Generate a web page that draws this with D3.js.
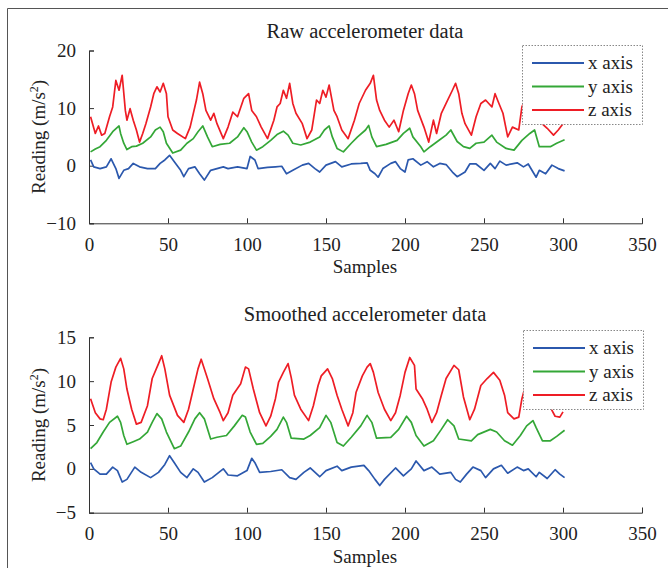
<!DOCTYPE html>
<html>
<head>
<meta charset="utf-8">
<script src="https://cdn.jsdelivr.net/npm/d3@7"></script>
<style>
  body { margin: 0; background: #fff; }
  text { font-family: "Liberation Serif", "Times New Roman", serif; fill: #222; }
</style>
</head>
<body>
<svg id="chart" width="668" height="568"></svg>
<script>
// [sample, reading] pairs
const rawX = [[1,1],[3,-0.2],[7,-0.5],[11,-0.2],[14,1.2],[17,-0.5],[19,-2.2],[22,-0.8],[25,-0.5],[28,0.4],[32,-0.2],[37,-0.5],[42,-0.5],[45,0.4],[48,1],[51,1.8],[54,0.7],[58,-0.8],[60,-1.9],[63,-0.5],[67,-0.2],[70,-1.4],[73,-2.5],[77,-0.8],[81,-0.5],[85,-0.2],[88,-0.5],[94,-0.2],[100,-0.5],[102,1.6],[105,1],[107,-0.5],[113,-0.3],[118,-0.2],[122,-0.1],[125,-1.4],[129,-0.8],[135,0.1],[139,0.4],[143,-0.5],[146,-1.1],[150,0.1],[156,0.7],[160,-0.2],[166,0.3],[172,0.4],[176,0.5],[178,-0.8],[181,-1.4],[183,-2],[186,-0.5],[191,0.4],[194,0.7],[197,-0.5],[200,-1.1],[202,1],[205,1.2],[210,0.1],[214,0.7],[218,-0.2],[222,0.4],[226,0.2],[230,-1.1],[233,-1.9],[238,-1.1],[241,0.3],[245,0.3],[250,-0.8],[254,0.4],[257,-0.5],[260,0.8],[264,0.1],[271,0.5],[275,-0.2],[278,0.3],[281,-1.1],[283,-2],[285,-0.8],[289,-1.4],[293,0.1],[297,-0.5],[301,-0.9]];
const rawY = [[1,2.4],[4,2.9],[7,3.3],[11,4.4],[15,5.9],[19,6.9],[20,5.6],[22,3.9],[24,2.8],[27,3.3],[30,3.4],[34,3.9],[39,5],[42,6.2],[45,6.7],[47,5.9],[49,3.9],[53,2.2],[58,2.7],[62,3.9],[66,4.7],[69,5.9],[72,6.9],[75,5],[78,3.3],[83,3.7],[89,3.9],[94,5],[98,6.6],[100,5.9],[103,4.1],[106,2.7],[110,3.3],[115,4.4],[119,5.4],[123,6],[126,5.3],[129,3.9],[134,3.6],[140,4.1],[146,5],[149,6.2],[152,6.9],[154,5],[157,3],[161,2.4],[166,3.9],[170,5],[175,6.2],[177,7],[179,5],[182,3.3],[188,3.7],[195,4.4],[199,5.6],[203,6.5],[205,5],[210,3.3],[212,2.4],[216,3.3],[222,4.5],[226,5.3],[229,6.2],[233,4.2],[237,3.3],[241,3],[245,3.9],[250,4.1],[255,5.3],[258,4.1],[264,3],[269,2.7],[274,4.4],[279,5.6],[282,6.2],[285,3.3],[292,3.3],[296,3.9],[301,4.5]];
const rawZ = [[1,8.5],[4,5.6],[6,6.9],[8,5.3],[10,5.6],[13,8.5],[15,10.2],[17,14.8],[19,13.1],[21,15.7],[23,9.6],[24,7.9],[26,9.9],[28,7.9],[30,6.2],[32,4.1],[34,5.6],[36,7.3],[39,10.2],[41,12.5],[43,13.7],[45,12.8],[47,14.3],[49,12.5],[50,8.5],[53,6.2],[56,5.6],[61,4.7],[64,6.7],[68,11.4],[70,14.5],[72,12.5],[74,9.6],[77,7.9],[79,9.1],[81,7.3],[85,4.7],[88,6.7],[91,9.3],[94,8.5],[98,11.7],[101,12.5],[103,9.6],[106,8.5],[109,6.7],[113,4.7],[117,7.9],[119,10.2],[121,10.8],[123,13.1],[125,11.7],[127,14.3],[129,10.8],[131,9.1],[135,7.3],[138,4.7],[141,6.2],[144,11.4],[146,10.8],[148,13.1],[150,11.9],[152,14],[155,9.6],[157,8.5],[160,6.2],[164,4.7],[168,7.9],[171,10.8],[175,13.1],[178,14.3],[180,15.7],[182,11.4],[184,9.6],[187,7.9],[190,6.7],[193,7.9],[196,5.9],[199,9.6],[202,12.5],[204,14],[206,12.5],[208,9.6],[212,6.7],[215,4.1],[218,7.9],[220,5.6],[223,9.1],[226,10.8],[230,13.1],[232,14.3],[234,12.5],[236,9.1],[238,7.3],[242,5.3],[245,8.5],[248,10.8],[251,11.4],[253,10.8],[255,10.2],[257,12.5],[259,11.1],[262,9.1],[265,5],[268,6.7],[272,6.2],[274,10.2],[277,12],[280,11],[283,9],[286,7.5],[290,6.5],[294,5.3],[297,6.2],[300,7.3]];

const smX = [[1,0.7],[3,0],[7,-0.6],[11,-0.6],[15,0.2],[18,-0.2],[21,-1.5],[24,-1.2],[29,0.2],[33,-0.4],[39,-1],[44,-0.4],[48,0.5],[51,1.5],[54,0.7],[58,-0.4],[62,-1],[66,0],[69,-0.4],[73,-1.5],[78,-1],[85,0],[88,-0.7],[94,-0.8],[100,-0.2],[103,1.2],[105,0.7],[108,-0.4],[115,-0.3],[122,-0.1],[127,-1],[131,-1.2],[136,-0.4],[140,0.1],[146,-0.9],[150,-0.2],[157,0.3],[160,-0.2],[166,0.2],[174,0.4],[177,-0.2],[181,-1.2],[184,-1.9],[187,-1.2],[194,0.1],[199,-0.8],[204,0],[207,0.9],[212,-0.2],[217,0.2],[222,-0.6],[229,-0.4],[232,-1.2],[235,-1.5],[239,-0.6],[243,0.2],[248,-0.2],[251,-1],[256,0],[261,0.4],[265,-0.5],[271,0.2],[275,-0.2],[278,0],[283,-0.9],[285,-0.4],[290,-1.1],[295,-0.1],[298,-0.6],[301,-1]];
const smY = [[1,2.3],[5,3],[9,4.2],[13,5.3],[18,6],[20,5.3],[22,3.8],[24,2.8],[28,3.1],[32,3.4],[37,4.2],[40,5.3],[43,6.3],[46,5.7],[49,4.2],[54,2.3],[58,2.6],[63,4.2],[67,5.7],[70,6.4],[73,5.7],[77,3.4],[81,3.6],[87,3.8],[92,4.9],[97,6.1],[99,5.9],[102,4.2],[106,2.8],[110,2.9],[115,3.7],[119,4.5],[123,5.9],[125,5.3],[128,3.5],[136,3.4],[140,3.8],[146,4.7],[150,6.1],[153,5.3],[157,3],[161,2.6],[166,3.6],[172,4.9],[176,6.1],[179,5.3],[182,3.5],[191,3.6],[196,4.5],[201,6],[204,5.3],[207,3.8],[212,2.6],[218,3.2],[223,4.5],[227,5.6],[231,4.9],[234,3.4],[242,3.2],[246,3.9],[254,4.5],[258,4.2],[263,3.2],[268,2.7],[273,3.8],[277,4.9],[281,5.5],[283,4.7],[287,3.2],[292,3.2],[296,3.7],[301,4.4]];
const smZ = [[1,8],[4,6.4],[7,5.7],[9,5.6],[11,6.8],[14,9.9],[17,11.6],[20,12.6],[22,11.4],[24,9.1],[27,6.8],[30,5.1],[33,5.3],[37,7.2],[40,10.3],[44,12],[46,12.9],[48,11.4],[51,8.4],[56,6.1],[60,5.3],[63,6.8],[66,9.1],[69,11.4],[71,12.5],[75,10.3],[79,8],[83,6.4],[85,5.5],[88,6.4],[91,8.4],[96,9.7],[99,11.6],[101,11.4],[104,9.1],[108,6.4],[112,4.9],[115,6],[118,8],[120,9.9],[123,11],[126,12],[128,10.4],[130,8.4],[134,6.8],[139,5.5],[142,7.2],[145,9.5],[147,10.6],[151,11.4],[154,10.3],[157,8.4],[160,6.8],[164,4.9],[167,6.4],[169,8.7],[173,10.6],[176,11.6],[178,12],[180,11],[183,8.7],[187,6.8],[191,5.5],[194,6.4],[197,8.4],[200,11],[203,12.7],[206,11.8],[207,9.1],[211,8],[214,6.8],[217,5.3],[220,6.4],[223,8.4],[226,10.3],[231,11.8],[234,11.3],[237,8.2],[241,5.6],[244,6.8],[248,9.5],[252,10.3],[256,11],[260,10.1],[263,8.4],[265,6.4],[269,5.7],[272,5.9],[274,8],[277,10],[280,11.5],[283,11.8],[286,10.5],[289,8.5],[292,7],[295,6],[298,5.9],[300,6.5]];

const seriesNames = ["x axis", "y axis", "z axis"];
const seriesColors = ["#2b58ad", "#34a737", "#ee1d25"];
const xTicks = [0, 50, 100, 150, 200, 250, 300, 350];
const rawTicks = [-10, 0, 10, 20];
const smTicks = [-5, 0, 5, 10, 15];

const svg = d3.select("#chart");

// outer frame (open on right / bottom like the crop)
svg.append("path")
	.attr("d", "M7.5,568 L7.5,8.5 L668,8.5")
	.attr("fill", "none")
	.attr("stroke", "#555")
	.attr("stroke-width", 1);

function drawPanel(opts) {
	let x = d3.scaleLinear().domain([0, 350]).range([89, 642]);
	let y = d3.scaleLinear().domain(opts.domain).range(opts.range);
	let g = svg.append("g");

	let xAxis = d3.axisBottom(x).tickValues(xTicks).tickSizeInner(-5).tickSizeOuter(-5).tickPadding(14);
	let gx = g.append("g")
		.attr("transform", "translate(0," + opts.range[0] + ")")
		.call(xAxis);
	let yAxis = d3.axisLeft(y).tickValues(opts.ticks).tickSizeInner(-5).tickSizeOuter(-5).tickPadding(13)
		.tickFormat(d => d < 0 ? "\u2212" + Math.abs(d) : d);
	let gy = g.append("g")
		.attr("transform", "translate(89,0)")
		.call(yAxis);

	[gx, gy].forEach(a => {
		a.selectAll("path, line").attr("stroke", "#333");
		a.selectAll("text")
			.style("font-family", '"Liberation Serif", serif')
			.style("font-size", "19px")
			.attr("fill", "#222");
	});

	let line = d3.line().x(d => x(d[0])).y(d => y(d[1]));
	opts.series.forEach((s, i) => {
		g.append("path")
			.datum(s)
			.attr("d", line)
			.attr("fill", "none")
			.attr("stroke", seriesColors[i])
			.attr("stroke-width", 1.7)
			.attr("stroke-linejoin", "round");
	});

	g.append("text")
		.attr("x", 365)
		.attr("y", opts.titleY)
		.attr("text-anchor", "middle")
		.style("font-size", "20.5px")
		.text(opts.title);

	g.append("text")
		.attr("x", 365)
		.attr("y", opts.range[0] + 50)
		.attr("text-anchor", "middle")
		.style("font-size", "19px")
		.text("Samples");

	let ly = g.append("text")
		.attr("transform", "translate(45," + (opts.range[0] + opts.range[1]) / 2 + ") rotate(-90)")
		.attr("text-anchor", "middle")
		.style("font-size", "19px");
	ly.append("tspan").text("Reading (m/s");
	ly.append("tspan").attr("dy", -7).style("font-size", "12px").text("2");
	ly.append("tspan").attr("dy", 7).text(")");

	// legend
	let lg = g.append("g").attr("transform", "translate(" + opts.legend[0] + "," + opts.legend[1] + ")");
	lg.append("rect")
		.attr("x", 0.5).attr("y", 0.5)
		.attr("width", 120).attr("height", 79)
		.attr("fill", "#fff")
		.attr("stroke", "#888")
		.attr("stroke-dasharray", "1.5,1.5");
	seriesNames.forEach((n, i) => {
		let ry = 18 + i * 23.5;
		lg.append("line")
			.attr("x1", 10).attr("x2", 62)
			.attr("y1", ry).attr("y2", ry)
			.attr("stroke", seriesColors[i])
			.attr("stroke-width", 2);
		lg.append("text")
			.attr("x", 66).attr("y", ry + 6)
			.style("font-size", "19px")
			.text(n);
	});
}

drawPanel({
	title: "Raw accelerometer data",
	titleY: 38,
	domain: [-10, 20],
	range: [223.3, 50.5],
	ticks: rawTicks,
	series: [rawX, rawY, rawZ],
	legend: [522, 45]
});

drawPanel({
	title: "Smoothed accelerometer data",
	titleY: 321,
	domain: [-5, 15],
	range: [512.7, 337.3],
	ticks: smTicks,
	series: [smX, smY, smZ],
	legend: [523, 330]
});
</script>
</body>
</html>
